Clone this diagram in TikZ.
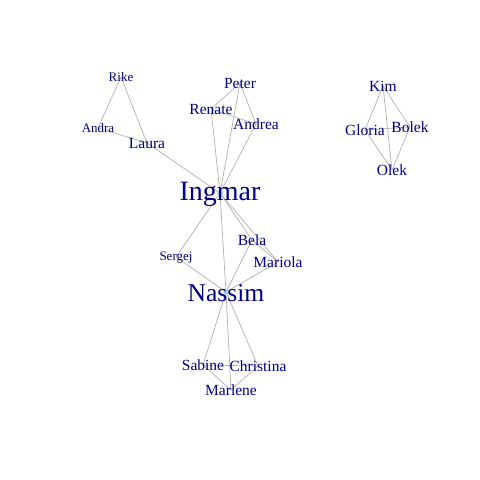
\documentclass[tikz,border=0pt]{standalone}
\usepackage{fontspec}
\setmainfont{Liberation Serif}
\definecolor{lbl}{HTML}{00008B}
\definecolor{edg}{HTML}{B0B0B0}
\definecolor{vtx}{HTML}{9FD2F0}
\tikzset{
  edge/.style={draw=edg,line width=0.7pt},
  vdot/.style={fill=vtx,draw=none},
  lab/.style={text=lbl,inner sep=0pt,anchor=center},
  s2/.style={lab,font=\fontsize{13}{14}\selectfont},
  s3/.style={lab,font=\fontsize{15.5}{17}\selectfont},
  s7/.style={lab,font=\fontsize{25.6}{28}\selectfont},
  s8/.style={lab,font=\fontsize{28}{30}\selectfont}
}
\begin{document}
\begin{tikzpicture}[x=1pt,y=-1pt]
\useasboundingbox (0,0) rectangle (480,480);
% vertex positions
\coordinate (Rike) at (121,77);
\coordinate (Andra) at (98,128);
\coordinate (Laura) at (147,143);
\coordinate (Peter) at (240,83);
\coordinate (Renate) at (211,109);
\coordinate (Andrea) at (256,124);
\coordinate (Ingmar) at (220,193);
\coordinate (Kim) at (383,86);
\coordinate (Gloria) at (365,130);
\coordinate (Bolek) at (410,127);
\coordinate (Olek) at (392,170);
\coordinate (Bela) at (252,240);
\coordinate (Mariola) at (278,262);
\coordinate (Sergej) at (176,257);
\coordinate (Nassim) at (226,292);
\coordinate (Sabine) at (203,365);
\coordinate (Christina) at (258,366);
\coordinate (Marlene) at (231,390);
% edges
\foreach \a/\b in {Rike/Andra,Rike/Laura,Andra/Laura,Laura/Ingmar,
  Peter/Renate,Peter/Andrea,Peter/Ingmar,Renate/Andrea,Renate/Ingmar,Andrea/Ingmar,
  Ingmar/Sergej,Ingmar/Nassim,Ingmar/Bela,Ingmar/Mariola,
  Sergej/Nassim,Bela/Nassim,Mariola/Nassim,Bela/Mariola,
  Nassim/Sabine,Nassim/Christina,Nassim/Marlene,Sabine/Christina,Sabine/Marlene,Christina/Marlene,
  Kim/Gloria,Kim/Bolek,Kim/Olek,Gloria/Bolek,Gloria/Olek,Bolek/Olek}
  \draw[edge] (\a) -- (\b);
% vertices
\fill[vdot] (Ingmar) circle (2.8);
\fill[vdot] (Nassim) circle (2.5);
% labels
\node[s2] (lRike) at ([yshift=-0.3]Rike) {Rike};
\node[s2] (lAndra) at ([yshift=-0.3]Andra) {Andra};
\node[s2] (lSergej) at ([yshift=-0.3]Sergej) {Sergej};
\node[s3] (lLaura) at ([yshift=-0.3]Laura) {Laura};
\node[s3] (lPeter) at ([yshift=-0.3]Peter) {Peter};
\node[s3] (lRenate) at ([yshift=-0.3]Renate) {Renate};
\node[s3] (lAndrea) at ([yshift=-0.3]Andrea) {Andrea};
\node[s3] (lKim) at ([yshift=-0.3]Kim) {Kim};
\node[s3] (lGloria) at ([yshift=-0.3]Gloria) {Gloria};
\node[s3] (lBolek) at ([yshift=-0.3]Bolek) {Bolek};
\node[s3] (lOlek) at ([yshift=-0.3]Olek) {Olek};
\node[s3] (lBela) at ([yshift=-0.3]Bela) {Bela};
\node[s3] (lMariola) at ([yshift=-0.3]Mariola) {Mariola};
\node[s3] (lSabine) at ([yshift=-0.3]Sabine) {Sabine};
\node[s3] (lChristina) at ([yshift=-0.3]Christina) {Christina};
\node[s3] (lMarlene) at ([yshift=-0.3]Marlene) {Marlene};
\node[s8] (lIngmar) at ([yshift=-1.5]Ingmar) {Ingmar};
\node[s7] (lNassim) at ([yshift=-1.2]Nassim) {Nassim};
\end{tikzpicture}
\end{document}
